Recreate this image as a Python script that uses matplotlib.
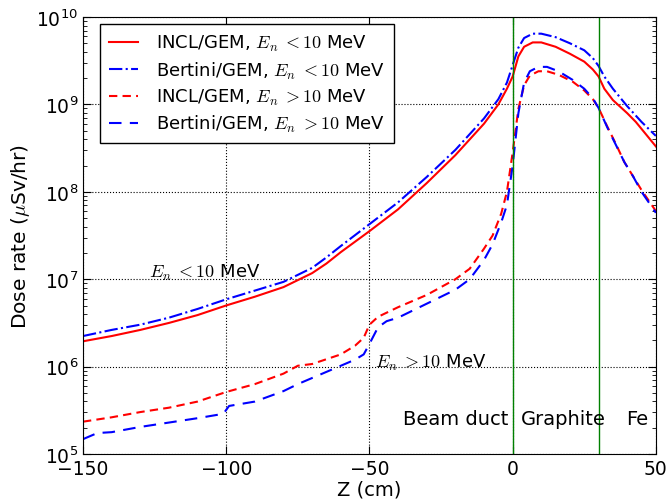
import numpy as np
import matplotlib
matplotlib.use("Agg")
import matplotlib.pyplot as plt

plt.rcParams['mathtext.fontset'] = 'cm'
plt.rcParams['font.family'] = ['DejaVu Sans']

# INCL/GEM, En < 10 MeV
z_incl_lo = [-150, -140, -130, -120, -110, -100, -90, -80, -70, -65, -60, -50, -40, -30, -20, -10,
             -5, -2, 0, 2, 4, 7, 10, 15, 20, 25, 28, 30, 32, 35, 40, 43, 46, 50]
log_incl_lo = [6.29, 6.35, 6.42, 6.50, 6.59, 6.70, 6.80, 6.91, 7.07, 7.18, 7.31, 7.55, 7.80, 8.10, 8.42, 8.78,
               9.00, 9.18, 9.32, 9.55, 9.66, 9.71, 9.71, 9.66, 9.58, 9.49, 9.40, 9.32, 9.18, 9.05, 8.90, 8.80, 8.68, 8.52]

# Bertini/GEM, En < 10 MeV
z_bert_lo = [-150, -140, -130, -120, -110, -100, -90, -80, -70, -65, -60, -50, -40, -30, -20, -10,
             -5, -2, 0, 2, 4, 7, 10, 15, 20, 25, 28, 30, 32, 35, 40, 45, 50]
log_bert_lo = [6.35, 6.42, 6.48, 6.56, 6.66, 6.77, 6.87, 6.97, 7.13, 7.25, 7.38, 7.63, 7.88, 8.17, 8.48, 8.84,
               9.06, 9.25, 9.45, 9.65, 9.76, 9.81, 9.81, 9.77, 9.70, 9.62, 9.53, 9.44, 9.32, 9.18, 8.98, 8.80, 8.64]

# INCL/GEM, En > 10 MeV
z_incl_hi = [-150, -140, -130, -120, -110, -100, -90, -80, -75, -70, -60, -55, -52, -50, -47, -40, -30,
             -20, -15, -10, -7, -4, -2, 0, 2, 4, 6, 9, 12, 16, 21, 25, 28, 30, 33, 36, 39, 42, 45, 50]
log_incl_hi = [5.37, 5.42, 5.48, 5.53, 5.60, 5.71, 5.80, 5.92, 6.01, 6.03, 6.14, 6.24, 6.33, 6.48, 6.57, 6.68, 6.82,
               7.00, 7.12, 7.35, 7.50, 7.75, 8.00, 8.45, 8.95, 9.22, 9.33, 9.38, 9.38, 9.34, 9.26, 9.16, 9.06, 8.96,
               8.75, 8.55, 8.34, 8.18, 8.02, 7.78]

# Bertini/GEM, En > 10 MeV
z_bert_hi = [-150, -145, -140, -130, -120, -110, -101, -99, -90, -80, -75, -70, -60, -55, -52, -50, -47, -44,
             -40, -30, -20, -15, -10, -7, -4, -2, 0, 2, 4, 6, 9, 12, 16, 21, 25, 28, 30, 33, 36, 39, 42, 45, 50]
log_bert_hi = [5.17, 5.24, 5.25, 5.31, 5.36, 5.41, 5.46, 5.55, 5.60, 5.72, 5.80, 5.87, 6.01, 6.08, 6.14, 6.26,
               6.45, 6.52, 6.56, 6.72, 6.88, 7.00, 7.22, 7.40, 7.65, 7.85, 8.30, 8.90, 9.25, 9.38, 9.43, 9.43,
               9.38, 9.28, 9.18, 9.07, 8.96, 8.74, 8.54, 8.34, 8.18, 8.00, 7.76]

boundaries = [0, 30]

fig = plt.figure(figsize=(6.72, 5.02), dpi=100)
ax = fig.add_axes([0.1235, 0.0936, 0.8525, 0.8704])

ax.plot(z_incl_lo, 10 ** np.array(log_incl_lo), color='r', ls='-', lw=1.5,
        label=r'INCL/GEM, $E_n\;{<}10$ MeV')
ax.plot(z_bert_lo, 10 ** np.array(log_bert_lo), color='b', ls='-.', lw=1.5,
        label=r'Bertini/GEM, $E_n\;{<}10$ MeV')
ax.plot(z_incl_hi, 10 ** np.array(log_incl_hi), color='r', ls=(0, (4, 2.5)), lw=1.5,
        label=r'INCL/GEM, $E_n\;{>}10$ MeV')
ax.plot(z_bert_hi, 10 ** np.array(log_bert_hi), color='b', ls=(0, (6, 4)), lw=1.5,
        label=r'Bertini/GEM, $E_n\;{>}10$ MeV')

for b in boundaries:
    ax.axvline(b, color='g', lw=1.0)

ax.set_yscale('log')
ax.set_xlim(-150, 50)
ax.set_ylim(1e5, 1e10)
ax.grid(True, which='major', color='k', ls=':', lw=0.8)
ax.tick_params(which='both', direction='in', top=True, right=True, labelsize=13.5)
ax.tick_params(which='major', length=6)
ax.tick_params(which='minor', length=3)
ax.set_xticks([-150, -100, -50, 0, 50])
ax.set_xlabel('Z (cm)', fontsize=14, labelpad=1)
ax.set_ylabel(r'Dose rate ($\mu$Sv/hr)', fontsize=14.5, labelpad=3)

ax.text(-127, 1.05e7, r'$E_n\;{<}10$ MeV', fontsize=13)
ax.text(-48, 1.0e6, r'$E_n\;{>}10$ MeV', fontsize=13)
ax.text(-38.3, 2.2e5, 'Beam duct', fontsize=14)
ax.text(3.0, 2.2e5, 'Graphite', fontsize=14)
ax.text(39.5, 2.2e5, 'Fe', fontsize=14)

leg = ax.legend(loc='upper left', bbox_to_anchor=(0.03, 0.984), borderaxespad=0,
                fontsize=13, fancybox=False, framealpha=1, edgecolor='k',
                handlelength=1.6, handletextpad=1.0, labelspacing=0.35, borderpad=0.5)
leg.get_frame().set_linewidth(1.0)

fig.savefig('out.png', dpi=100)
